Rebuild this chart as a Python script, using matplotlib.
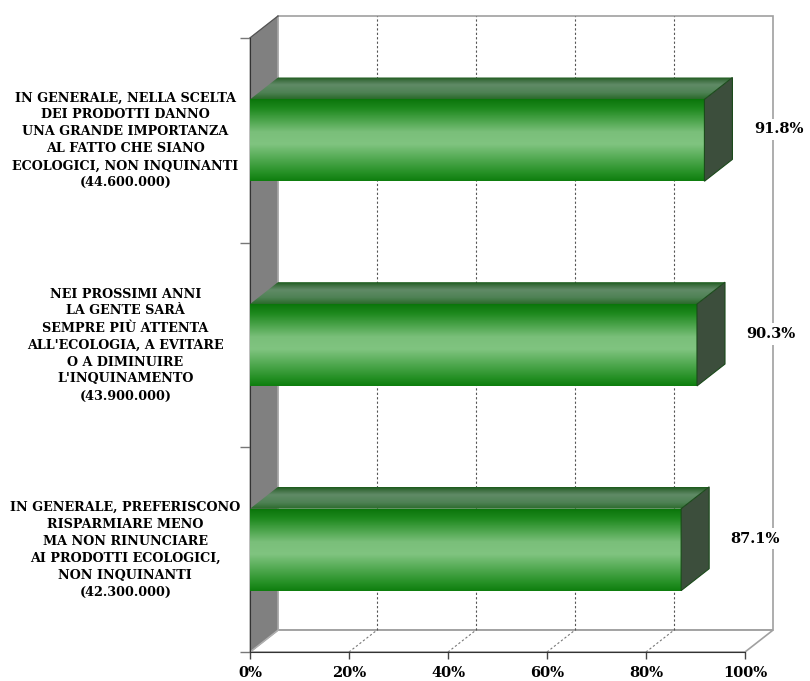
import matplotlib
matplotlib.use('Agg')
import matplotlib.pyplot as plt
import numpy as np
from matplotlib.colors import LinearSegmentedColormap
from matplotlib.patches import Polygon

# bottom -> top
categories = [
    "IN GENERALE, PREFERISCONO\nRISPARMIARE MENO\nMA NON RINUNCIARE\nAI PRODOTTI ECOLOGICI,\nNON INQUINANTI\n(42.300.000)",
    "NEI PROSSIMI ANNI\nLA GENTE SARÀ\nSEMPRE PIÙ ATTENTA\nALL'ECOLOGIA, A EVITARE\nO A DIMINUIRE\nL'INQUINAMENTO\n(43.900.000)",
    "IN GENERALE, NELLA SCELTA\nDEI PRODOTTI DANNO\nUNA GRANDE IMPORTANZA\nAL FATTO CHE SIANO\nECOLOGICI, NON INQUINANTI\n(44.600.000)",
]
values = [87.1, 90.3, 91.8]
xticks = [0, 20, 40, 60, 80, 100]

FONT = 'DejaVu Serif'
DX, DY = 5.66, 0.107       # depth offset in data units
BAR_H = 0.4

front_cmap = LinearSegmentedColormap.from_list('front', [
    (0.0, '#0e7e0e'), (0.1, '#259025'), (0.45, '#80c480'), (0.6, '#7abf7a'),
    (0.88, '#1f8a1f'), (1.0, '#0a760a')])
top_cmap = LinearSegmentedColormap.from_list('top', [
    (0.0, '#2a6a2a'), (0.3, '#4f8255'), (0.65, '#608a66'), (0.85, '#3f7042'),
    (1.0, '#1a5a1a')])

fig = plt.figure(figsize=(8.1, 6.81), dpi=100)
ax = fig.add_axes([250 / 810, 29 / 681, 495 / 810, 614 / 681])
ax.set_xlim(0, 100)
ax.set_ylim(0, 3)
n = len(values)

# back wall, floor and side wall
ax.add_patch(Polygon([(DX, DY), (100 + DX, DY), (100 + DX, n + DY), (DX, n + DY)],
                     closed=True, fc='white', ec='#a0a0a0', lw=1.2, zorder=0, clip_on=False))
ax.add_patch(Polygon([(0, 0), (100, 0), (100 + DX, DY), (DX, DY)],
                     closed=True, fc='white', ec='#a0a0a0', lw=1.2, zorder=0.5, clip_on=False))
ax.add_patch(Polygon([(0, 0), (DX, DY), (DX, n + DY), (0, n)],
                     closed=True, fc='#808080', ec='#b0b0b0', lw=1.0, zorder=1, clip_on=False))
for t in xticks[1:-1]:
    ax.plot([t + DX, t + DX], [DY, n + DY], ls=(0, (2, 2)), color='#555555', lw=0.8,
            zorder=0.6, clip_on=False)
    ax.plot([t, t + DX], [0, DY], ls=(0, (2, 2)), color='#777777', lw=0.8,
            zorder=0.6, clip_on=False)
ax.plot([0, DX], [n, n + DY], color='#555555', lw=1.0, zorder=1.2, clip_on=False)

grad = np.linspace(0, 1, 256).reshape(-1, 1)
for i, v in enumerate(values):
    yc = i + 0.5
    y0, y1 = yc - BAR_H / 2, yc + BAR_H / 2
    # front face
    ax.imshow(grad, extent=[0, v, y0, y1], origin='lower', aspect='auto',
              cmap=front_cmap, zorder=3, interpolation='bilinear')
    # top face
    top = Polygon([(0, y1), (v, y1), (v + DX, y1 + DY), (DX, y1 + DY)], closed=True,
                  fc='none', ec='none', transform=ax.transData)
    im = ax.imshow(grad, extent=[0, v + DX, y1, y1 + DY], origin='lower', aspect='auto',
                   cmap=top_cmap, zorder=3, interpolation='bilinear')
    im.set_clip_path(top)
    # side face
    ax.add_patch(Polygon([(v, y0), (v + DX, y0 + DY), (v + DX, y1 + DY), (v, y1)],
                         closed=True, fc='#3c4e3c', ec='#1a4a1a', lw=0.8, zorder=3))
    ax.text(v + 15, yc + DY / 2, f'{v:.1f}%', ha='center', va='center',
            fontsize=10.5, fontweight='bold', family=FONT, zorder=4,
            bbox=dict(boxstyle='square,pad=0.25', fc='white', ec='none'))
    ax.text(-25.2, yc, categories[i], ha='center', va='center', fontsize=9.2,
            fontweight='bold', family=FONT, linespacing=1.4, multialignment='center')

ax.set_xlim(0, 100)
ax.set_ylim(0, 3)
ax.set_xticks(xticks)
ax.set_xticklabels([f'{t}%' for t in xticks], fontsize=10.5, fontweight='bold', family=FONT)
ax.set_yticks([0, 1, 2, 3])
ax.set_yticklabels([])
ax.tick_params(axis='x', length=5, width=1, color='#444444', pad=5)
ax.tick_params(axis='y', length=7, width=1, color='#777777')
for s in ['top', 'right']:
    ax.spines[s].set_visible(False)
ax.spines['left'].set_color('#333333')
ax.spines['bottom'].set_color('#333333')
ax.spines['left'].set_zorder(2)
ax.set_facecolor('none')

fig.savefig('out.png', dpi=100)
